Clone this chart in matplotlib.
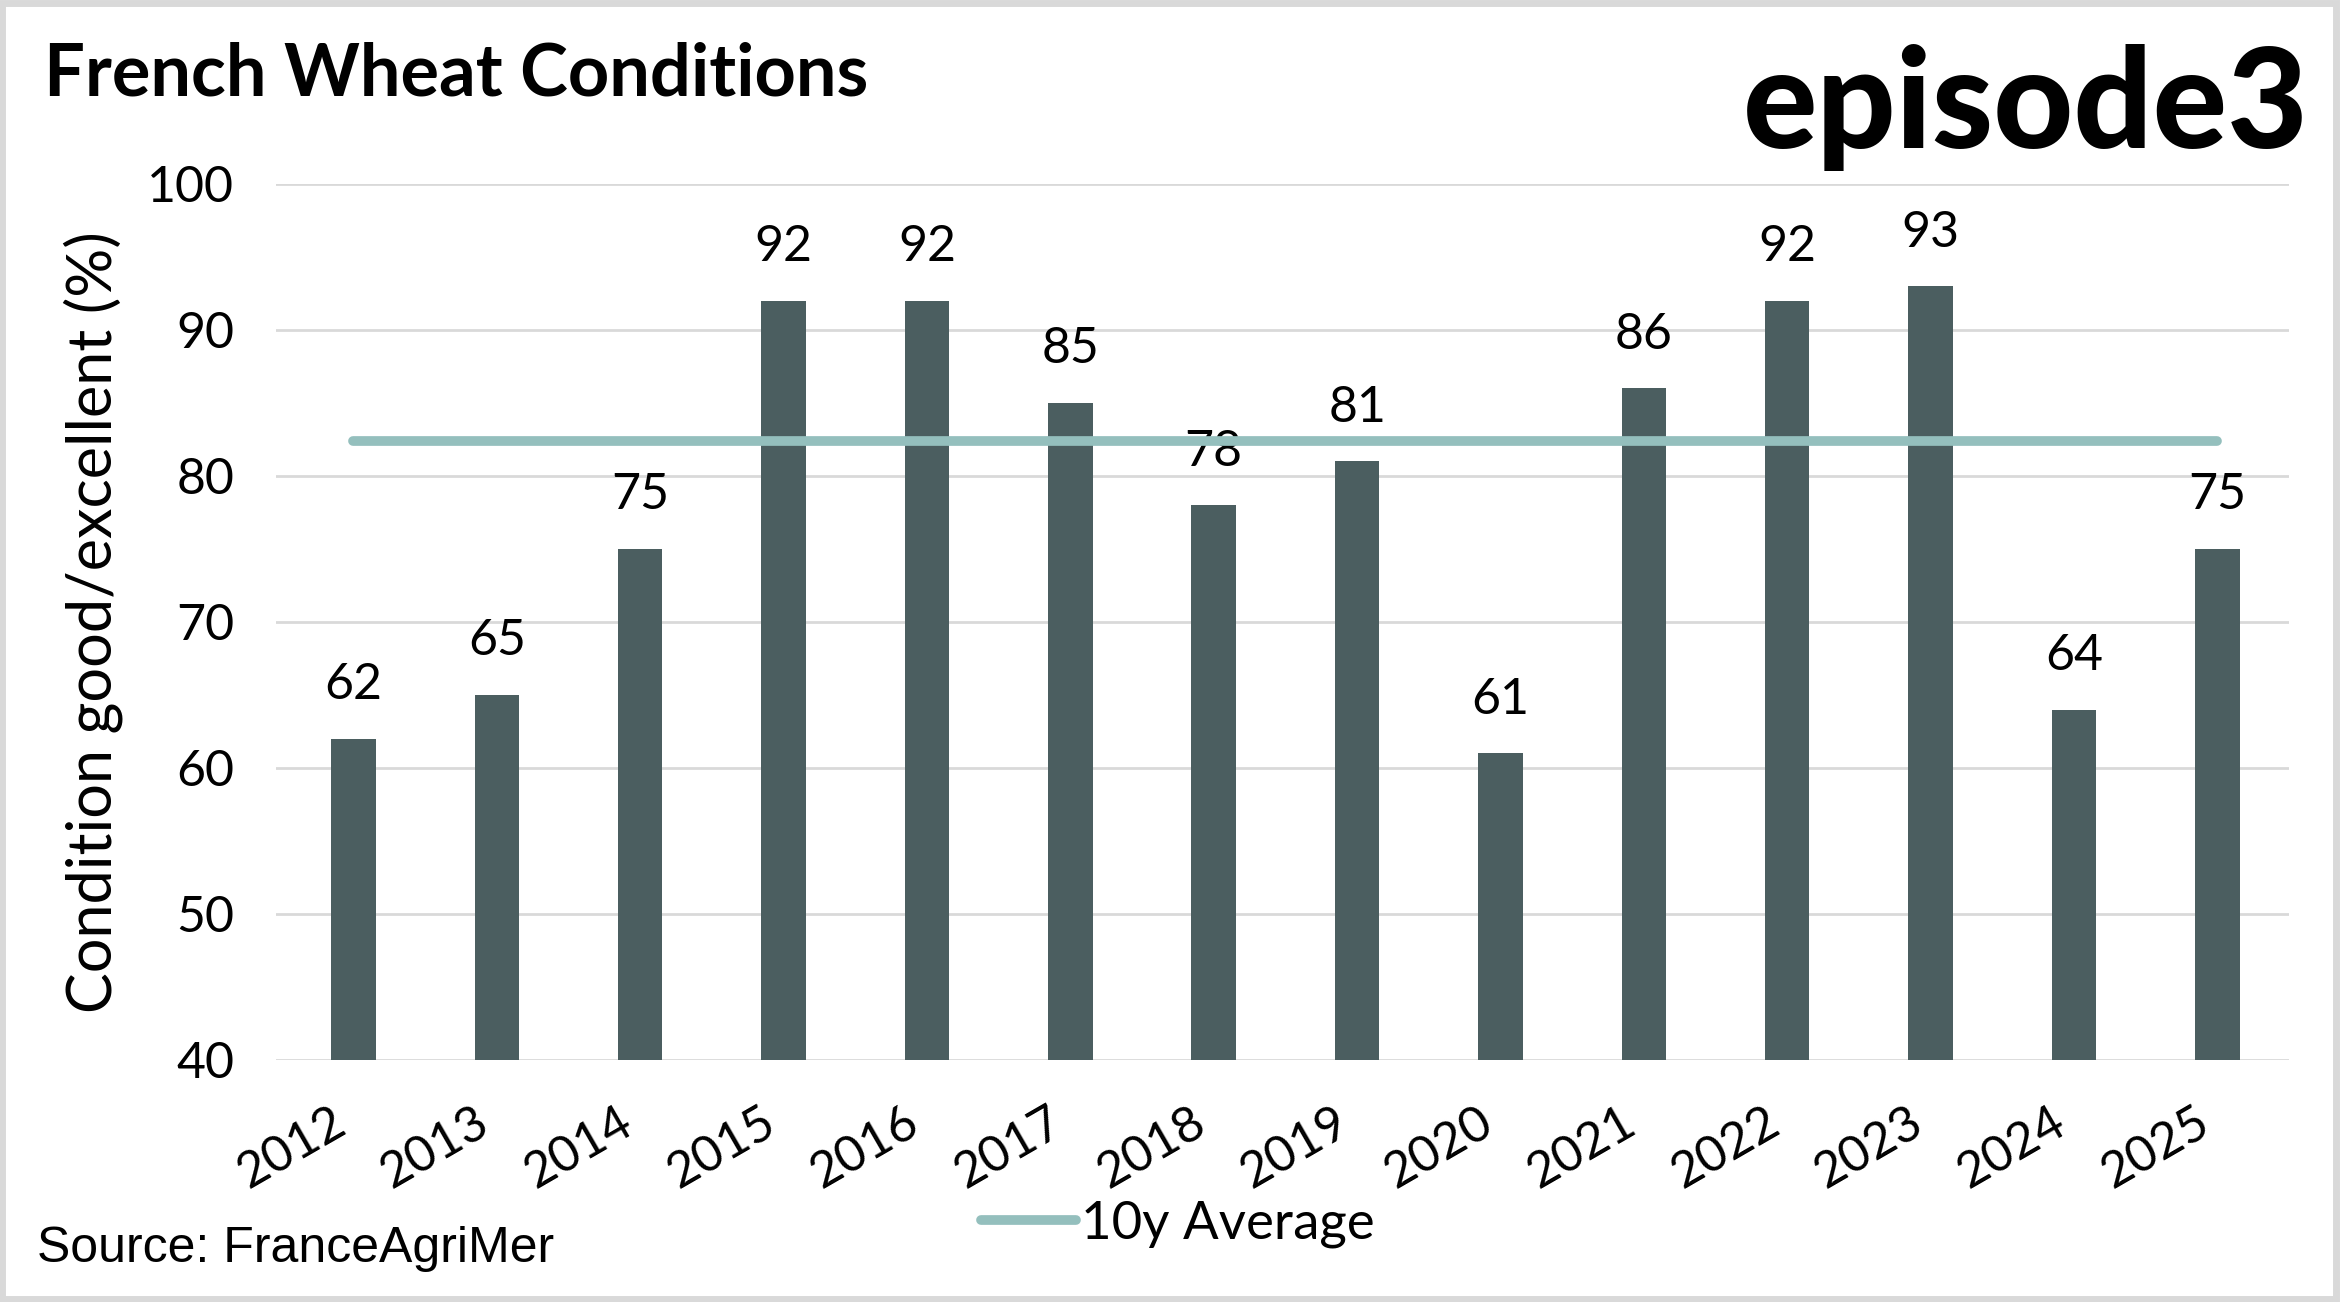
import matplotlib
matplotlib.use("Agg")
import matplotlib.pyplot as plt
from matplotlib.patches import Rectangle

# data
years = ["2012", "2013", "2014", "2015", "2016", "2017", "2018",
         "2019", "2020", "2021", "2022", "2023", "2024", "2025"]
condition = [62, 65, 75, 92, 92, 85, 78, 81, 61, 86, 92, 93, 64, 75]
avg_10y = 82.4

bar_col = "#4B5E60"
avg_col = "#94BFBD"
grid_col = "#D9D9D9"
font = "Lato"

fig = plt.figure(figsize=(23.41, 13.02), dpi=100)
ax = fig.add_axes([0.1179, 0.1859, 0.8599, 0.6728])

x = list(range(len(years)))
ax.bar(x, condition, width=0.31, color=bar_col, zorder=2)
for xi, v in zip(x, condition):
    ax.annotate(str(v), (xi, v), xytext=(0, 22), textcoords="offset points",
                ha="center", va="bottom", fontsize=36, family=font)

avg_line, = ax.plot([x[0], x[-1]], [avg_10y, avg_10y], color=avg_col, lw=7,
                    solid_capstyle="round", zorder=3, label="10y Average")

ax.set_ylim(40, 100)
ax.set_xlim(-0.54, 13.5)
ax.set_yticks(range(40, 101, 10))
ax.set_yticklabels([str(t) for t in range(40, 101, 10)], family=font, fontsize=36)
ax.set_xticks(x)
ax.set_xticklabels(years, rotation=30, ha="right", family=font, fontsize=36)
ax.tick_params(axis="y", length=0, pad=30)
ax.tick_params(axis="x", length=0, pad=28)
ax.yaxis.grid(True, color=grid_col, lw=2, zorder=0)
ax.set_axisbelow(True)
for s in ax.spines.values():
    s.set_visible(False)

fig.text(0.040, 0.522, "Condition good/excellent (%)", family=font, fontsize=44,
         rotation=90, ha="center", va="center")

fig.legend(handles=[avg_line], loc="center", bbox_to_anchor=(0.503, 0.060),
           frameon=False, prop={"family": font, "size": 38},
           handlelength=1.8, handletextpad=0.1)

fig.text(0.019, 0.927, "French Wheat Conditions", family=font, weight="bold",
         fontsize=52, ha="left", va="baseline")
fig.text(0.986, 0.886, "episode3", family=font, weight="black",
         fontsize=100, ha="right", va="baseline")
fig.text(0.016, 0.031, "Source: FranceAgriMer", family="Liberation Sans",
         fontsize=36, ha="left", va="baseline")

fig.patches.append(Rectangle((0.001, 0.002), 0.997, 0.996, transform=fig.transFigure,
                             fill=False, edgecolor=grid_col, lw=5))

fig.savefig("out.png", dpi=100, facecolor="white")
